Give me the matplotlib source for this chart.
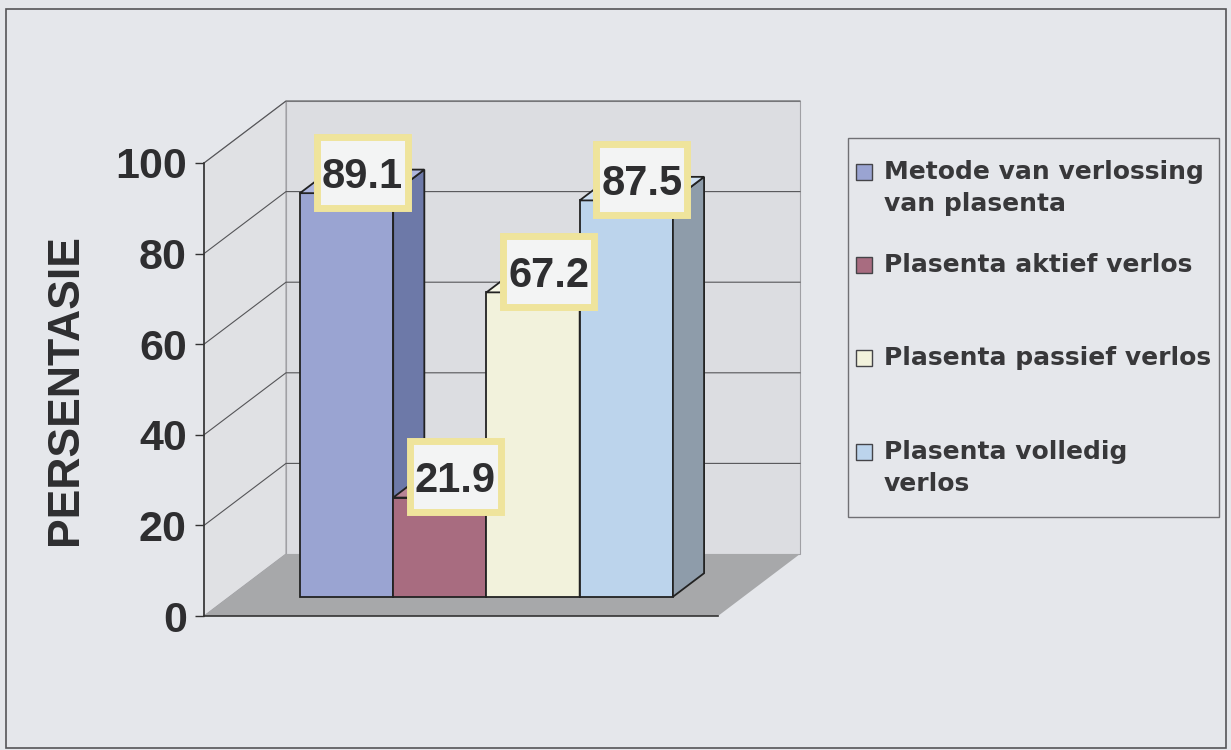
import numpy as np
import matplotlib
matplotlib.use('Agg')
import matplotlib.pyplot as plt
from matplotlib.patches import Polygon, Rectangle

# ---- data ----
categories = ['Metode van verlossing\nvan plasenta', 'Plasenta aktief verlos',
              'Plasenta passief verlos', 'Plasenta volledig\nverlos']
values = [89.1, 21.9, 67.2, 87.5]
yticks = [0, 20, 40, 60, 80, 100]
ylabel = 'PERSENTASIE'

front_colours = ['#9aa4d2', '#a86c80', '#f2f2dc', '#bcd4ec']
side_colours = ['#6d79a8', '#7e4c5e', '#c9c9ae', '#8e9caa']
top_colours = ['#aeb6de', '#b98596', '#f7f7e6', '#cfe0f2']

BG = '#e5e7eb'
TEXT = '#2e2e30'

# ---- layout, in pixels of the 1231x750 canvas ----
W, H = 1231, 750
X0, Y0 = 204, 616          # front-left corner of the floor (value 0)
BAR_PX = 93.25             # one bar width
UNIT_PX = 4.53             # one percent
DEPTH = (82, 62)           # offset front -> back wall
FLOOR_PX = 514
AX_BOX = (150, 80, 840, 660)   # left, top, right, bottom

DX = DEPTH[0] / BAR_PX
DY = DEPTH[1] / UNIT_PX
FW = FLOOR_PX / BAR_PX
margin = (FW - len(values)) / 2
z0, z1 = 0.31, 0.69


def P(x, y, z):
    return (x + z * DX, y + z * DY)


fig = plt.figure(figsize=(W / 100, H / 100), dpi=100, facecolor=BG)
l, t, r, b = AX_BOX
ax = fig.add_axes([l / W, (H - b) / H, (r - l) / W, (b - t) / H])
ax.set_facecolor('none')
ax.set_xlim((l - X0) / BAR_PX, (r - X0) / BAR_PX)
ax.set_ylim((Y0 - b) / UNIT_PX, (Y0 - t) / UNIT_PX)

# walls and floor
top = yticks[-1]
left_wall = [P(0, 0, 0), P(0, 0, 1), P(0, top, 1), P(0, top, 0)]
back_wall = [P(0, 0, 1), P(FW, 0, 1), P(FW, top, 1), P(0, top, 1)]
floor = [P(0, 0, 0), P(FW, 0, 0), P(FW, 0, 1), P(0, 0, 1)]
ax.add_patch(Polygon(left_wall, closed=True, fc='#e0e1e4', ec='#a0a0a4', lw=0.8, zorder=1))
ax.add_patch(Polygon(back_wall, closed=True, fc='#dcdde1', ec='#a0a0a4', lw=0.8, zorder=1))
ax.add_patch(Polygon(floor, closed=True, fc='#a7a8aa', ec='none', zorder=1.5))

for v in yticks[1:]:
    pts = np.array([P(0, v, 0), P(0, v, 1), P(FW, v, 1)])
    ax.plot(pts[:, 0], pts[:, 1], color='#555558', lw=0.8, zorder=2)

front_edge = np.array([P(0, 0, 0), P(FW, 0, 0)])
ax.plot(front_edge[:, 0], front_edge[:, 1], color='#333333', lw=1.2, zorder=2)

# bars
lefts = margin + np.arange(len(values))
bars = ax.bar(lefts + z0 * DX, values, width=1, bottom=z0 * DY, align='edge',
              color=front_colours, edgecolor='#222222', linewidth=1.3)
for i, (x, v) in enumerate(zip(lefts, values)):
    zo = 3 + i
    bars[i].set_zorder(zo)
    side = [P(x + 1, 0, z0), P(x + 1, 0, z1), P(x + 1, v, z1), P(x + 1, v, z0)]
    topf = [P(x, v, z0), P(x + 1, v, z0), P(x + 1, v, z1), P(x, v, z1)]
    ax.add_patch(Polygon(side, closed=True, fc=side_colours[i], ec='#222222', lw=1.3, zorder=zo))
    ax.add_patch(Polygon(topf, closed=True, fc=top_colours[i], ec='#222222', lw=1.3, zorder=zo))

# value labels in yellow-framed boxes
bw, bh = 91 / BAR_PX, 71 / UNIT_PX
for i, (x, v) in enumerate(zip(lefts, values)):
    cx, cy = P(x + 0.5, v, 0.5)
    cy += 9 / UNIT_PX
    ax.add_patch(Rectangle((cx - bw / 2, cy - bh / 2), bw, bh, fc='#f3f4f4',
                           ec='#efe49c', lw=5.0, zorder=10))
    ax.text(cx, cy, f'{v:.1f}', ha='center', va='center_baseline', fontsize=30,
            fontweight='bold', family='Liberation Sans', color=TEXT, zorder=11)

# y axis
for s in ['top', 'right', 'bottom']:
    ax.spines[s].set_visible(False)
ax.spines['left'].set_position(('data', 0))
ax.spines['left'].set_bounds(0, top)
ax.spines['left'].set_color('#333333')
ax.spines['left'].set_linewidth(1.2)
ax.spines['left'].set_zorder(2)
ax.set_xticks([])
ax.set_yticks(yticks)
ax.tick_params(axis='y', length=6.5, width=1, pad=6, labelsize=31,
               colors='#333333', labelcolor=TEXT)
for lab in ax.get_yticklabels():
    lab.set_fontfamily('Liberation Sans')
    lab.set_fontweight('bold')

# overlay in pixel units: title of axis, legend, frame
ov = fig.add_axes([0, 0, 1, 1])
ov.set_xlim(0, W)
ov.set_ylim(H, 0)
ov.axis('off')
ov.set_facecolor('none')

ov.text(66, 390, ylabel, rotation=90, ha='center', va='center', fontsize=32,
        fontweight='bold', family='Liberation Sans', color=TEXT)

ov.add_patch(Rectangle((848, 138), 371, 379, fc='none', ec='#707074', lw=1.0))
marker_y = [172, 265, 358, 452]
for i, (lab, my) in enumerate(zip(categories, marker_y)):
    ov.add_patch(Rectangle((856, my - 8), 16, 16, fc=front_colours[i], ec='#444448', lw=1.0))
    for k, line in enumerate(lab.split('\n')):
        ov.text(884, my + k * 32, line, ha='left', va='center', fontsize=18,
                fontweight='bold', family='DejaVu Sans', color='#38383a')

ov.add_patch(Rectangle((6, 9), 1220, 739, fc='none', ec='#555558', lw=1.2))

fig.savefig('out.png', dpi=100, facecolor=BG)
